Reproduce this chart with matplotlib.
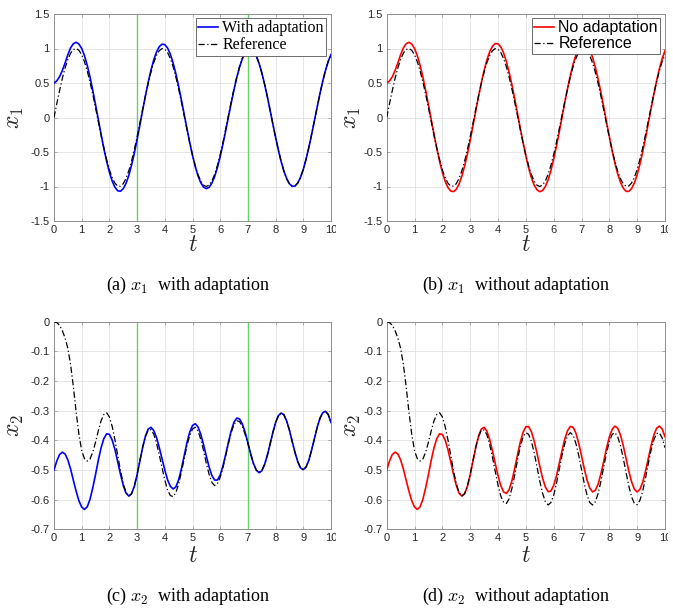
import numpy as np
import matplotlib
matplotlib.use('Agg')
import matplotlib.pyplot as plt
from matplotlib.transforms import Bbox

plt.rcParams['font.family'] = ['Liberation Sans', 'DejaVu Sans']
plt.rcParams['mathtext.fontset'] = 'cm'

# ---------------- data ----------------
t = np.linspace(0, 10, 101)    # sample times (step 0.1)
switch_times = [3, 7]

x1_ref = [0.0, 0.199, 0.389, 0.565, 0.717, 0.841, 0.932, 0.985, 1.0, 0.974,
          0.909, 0.808, 0.675, 0.516, 0.335, 0.141, -0.058, -0.256, -0.443, -0.612,
          -0.757, -0.872, -0.952, -0.994, -0.996, -0.959, -0.883, -0.773, -0.631, -0.465,
          -0.279, -0.083, 0.117, 0.312, 0.494, 0.657, 0.794, 0.899, 0.968, 0.999,
          0.989, 0.941, 0.855, 0.734, 0.585, 0.412, 0.223, 0.025, -0.175, -0.366,
          -0.544, -0.700, -0.828, -0.923, -0.981, -1.0, -0.979, -0.919, -0.823, -0.694,
          -0.537, -0.358, -0.166, 0.034, 0.232, 0.420, 0.592, 0.740, 0.860, 0.944,
          0.991, 0.998, 0.966, 0.895, 0.788, 0.650, 0.487, 0.304, 0.108, -0.092,
          -0.288, -0.472, -0.638, -0.778, -0.887, -0.961, -0.997, -0.993, -0.949, -0.867,
          -0.751, -0.604, -0.435, -0.246, -0.049, 0.149, 0.343, 0.523, 0.681, 0.813,
          0.913]
x1_adapt = [0.50, 0.53, 0.59, 0.68, 0.79, 0.91, 1.01, 1.07, 1.09, 1.064,
            1.000, 0.896, 0.756, 0.587, 0.393, 0.185, -0.030, -0.245, -0.448, -0.634,
            -0.792, -0.921, -1.011, -1.062, -1.069, -1.032, -0.954, -0.841, -0.692, -0.517,
            -0.319, -0.110, 0.104, 0.313, 0.509, 0.685, 0.834, 0.949, 1.027, 1.063,
            1.056, 1.007, 0.917, 0.790, 0.634, 0.452, 0.255, 0.047, -0.162, -0.362,
            -0.548, -0.713, -0.847, -0.947, -1.009, -1.031, -1.012, -0.952, -0.855, -0.724,
            -0.565, -0.384, -0.189, 0.014, 0.215, 0.406, 0.581, 0.731, 0.853, 0.939,
            0.990, 0.998, 0.966, 0.895, 0.788, 0.650, 0.487, 0.304, 0.108, -0.092,
            -0.288, -0.472, -0.638, -0.778, -0.887, -0.961, -0.997, -0.993, -0.949, -0.867,
            -0.751, -0.604, -0.435, -0.246, -0.049, 0.149, 0.343, 0.523, 0.681, 0.813,
            0.913]
x1_noadapt = [0.50, 0.53, 0.59, 0.68, 0.79, 0.91, 1.01, 1.07, 1.09, 1.064,
              1.000, 0.896, 0.755, 0.587, 0.392, 0.185, -0.030, -0.245, -0.448, -0.634,
              -0.794, -0.923, -1.015, -1.066, -1.074, -1.040, -0.964, -0.851, -0.703, -0.529,
              -0.331, -0.121, 0.094, 0.305, 0.503, 0.682, 0.834, 0.952, 1.032, 1.072,
              1.067, 1.023, 0.936, 0.811, 0.655, 0.472, 0.271, 0.059, -0.156, -0.363,
              -0.558, -0.730, -0.872, -0.980, -1.048, -1.075, -1.059, -1.001, -0.903, -0.769,
              -0.604, -0.415, -0.211, 0.004, 0.218, 0.422, 0.611, 0.774, 0.908, 1.004,
              1.061, 1.075, 1.047, 0.976, 0.868, 0.723, 0.551, 0.358, 0.148, -0.067,
              -0.278, -0.479, -0.661, -0.816, -0.938, -1.024, -1.070, -1.071, -1.030, -0.948,
              -0.829, -0.675, -0.497, -0.296, -0.085, 0.128, 0.339, 0.535, 0.708, 0.855,
              0.969]

# x2, t = 0 ... 3.4 (identical in panels c and d)
x2_plant_early = [-0.500, -0.470, -0.448, -0.440, -0.446, -0.466, -0.497, -0.535, -0.572, -0.604,
                  -0.625, -0.633, -0.624, -0.599, -0.560, -0.515, -0.467, -0.425, -0.394, -0.378,
                  -0.380, -0.399, -0.431, -0.472, -0.514, -0.552, -0.578, -0.588, -0.580, -0.555,
                  -0.516, -0.470, -0.424, -0.386, -0.362]
x2_ref_early = [0.0, -0.003, -0.012, -0.030, -0.055, -0.090, -0.145, -0.220, -0.305, -0.380,
                -0.435, -0.462, -0.470, -0.463, -0.440, -0.406, -0.368, -0.334, -0.313, -0.307,
                -0.321, -0.353, -0.398, -0.450, -0.502, -0.546, -0.576, -0.588, -0.580, -0.554,
                -0.515, -0.468, -0.423, -0.387, -0.366]
# x2, t = 3.5 ... 10
x2_adapt_late = [-0.356, -0.367, -0.390, -0.424, -0.462,
                 -0.500, -0.533, -0.555, -0.564, -0.557, -0.533, -0.496, -0.452, -0.408, -0.372,
                 -0.350, -0.344, -0.355, -0.380, -0.415, -0.454, -0.490, -0.519, -0.534, -0.534,
                 -0.517, -0.486, -0.447, -0.405, -0.367, -0.338, -0.325, -0.328, -0.345, -0.373,
                 -0.409, -0.446, -0.478, -0.500, -0.509, -0.503, -0.482, -0.451, -0.413, -0.374,
                 -0.340, -0.317, -0.308, -0.314, -0.335, -0.366, -0.404, -0.441, -0.472, -0.493,
                 -0.499, -0.490, -0.467, -0.433, -0.395, -0.357, -0.326, -0.307, -0.302, -0.313,
                 -0.340]
x2_ref_c_late = [-0.364, -0.379, -0.409, -0.449, -0.492,
                 -0.534, -0.568, -0.586, -0.590, -0.576, -0.547, -0.507, -0.462, -0.418, -0.384,
                 -0.362, -0.356, -0.369, -0.397, -0.435, -0.478, -0.515, -0.542, -0.553, -0.546,
                 -0.525, -0.492, -0.451, -0.410, -0.373, -0.346, -0.334, -0.337, -0.353, -0.380,
                 -0.410, -0.446, -0.478, -0.500, -0.509, -0.503, -0.482, -0.451, -0.413, -0.374,
                 -0.340, -0.317, -0.308, -0.314, -0.335, -0.366, -0.404, -0.441, -0.472, -0.493,
                 -0.499, -0.490, -0.467, -0.433, -0.395, -0.357, -0.326, -0.307, -0.302, -0.313,
                 -0.340]
x2_noadapt_late = [-0.356, -0.369, -0.397, -0.435, -0.478,
                   -0.519, -0.553, -0.574, -0.579, -0.566, -0.536, -0.495, -0.449, -0.406, -0.373,
                   -0.354, -0.354, -0.371, -0.403, -0.443, -0.487, -0.527, -0.557, -0.573, -0.571,
                   -0.552, -0.520, -0.478, -0.435, -0.395, -0.367, -0.353, -0.356, -0.376, -0.410,
                   -0.452, -0.496, -0.534, -0.562, -0.574, -0.568, -0.547, -0.512, -0.470, -0.426,
                   -0.389, -0.363, -0.352, -0.359, -0.382, -0.418, -0.461, -0.504, -0.540, -0.565,
                   -0.574, -0.565, -0.541, -0.504, -0.461, -0.418, -0.382, -0.359, -0.352, -0.362,
                   -0.388]
x2_ref_d_late = [-0.365, -0.381, -0.414, -0.457, -0.505,
                 -0.551, -0.588, -0.609, -0.613, -0.597, -0.562, -0.517, -0.467, -0.421, -0.389,
                 -0.374, -0.380, -0.404, -0.442, -0.489, -0.537, -0.578, -0.607, -0.618, -0.610,
                 -0.585, -0.546, -0.498, -0.451, -0.411, -0.384, -0.374, -0.383, -0.411, -0.451,
                 -0.498, -0.546, -0.585, -0.610, -0.618, -0.607, -0.578, -0.537, -0.489, -0.442,
                 -0.404, -0.380, -0.374, -0.388, -0.418, -0.460, -0.508, -0.554, -0.591, -0.613,
                 -0.617, -0.602, -0.571, -0.527, -0.479, -0.433, -0.398, -0.377, -0.375, -0.392,
                 -0.425]

x2_adapt = x2_plant_early + x2_adapt_late
x2_ref_c = x2_ref_early + x2_ref_c_late
x2_noadapt = x2_plant_early + x2_noadapt_late
x2_ref_d = x2_ref_early + x2_ref_d_late

x_ticks = list(range(11))
x_ticklabels = [str(v) for v in x_ticks]
y1_ticks = [-1.5, -1, -0.5, 0, 0.5, 1, 1.5]
y1_ticklabels = ['-1.5', '-1', '-0.5', '0', '0.5', '1', '1.5']
y2_ticks = [-0.7, -0.6, -0.5, -0.4, -0.3, -0.2, -0.1, 0]
y2_ticklabels = ['-0.7', '-0.6', '-0.5', '-0.4', '-0.3', '-0.2', '-0.1', '0']

captions = ['(a) $x_1$  with adaptation', '(b) $x_1$  without adaptation',
            '(c) $x_2$  with adaptation', '(d) $x_2$  without adaptation']

# ---------------- figure ----------------
W, H = 673, 608
fig = plt.figure(figsize=(W / 100, H / 100), dpi=100)

def rect(l, r, tp, b):
    return [l / W, 1 - b / H, (r - l) / W, (b - tp) / H]

ax_a = fig.add_axes(rect(54, 331, 14, 221))
ax_b = fig.add_axes(rect(386.7, 665, 14, 221))
ax_c = fig.add_axes(rect(54, 331, 321.7, 529.3))
ax_d = fig.add_axes(rect(386.7, 665, 321.7, 529.3))

SPINE = '#8f8f8f'
TXT = '#262626'
BLACK = '#000000'
GREEN = '#66d166'
dashdot = (0, (5, 2, 1, 2))

def style(ax, ylim, yt, ytl, ylab):
    ax.set_xlim(0, 10)
    ax.set_ylim(*ylim)
    ax.set_xticks(x_ticks)
    ax.set_xticklabels(x_ticklabels)
    ax.set_yticks(yt)
    ax.set_yticklabels(ytl)
    ax.grid(True, color='#e2e2e2', lw=0.6)
    ax.set_axisbelow(True)
    ax.tick_params(direction='in', length=2.5, width=0.5, color=SPINE,
                   labelcolor=TXT, labelsize=8, top=True, right=True, pad=3)
    for s in ax.spines.values():
        s.set_color(SPINE)
        s.set_linewidth(0.7)
    ax.set_xlabel('$t$', fontsize=17, color=TXT)
    ax.set_ylabel(ylab, fontsize=17, color=TXT)
    ax.xaxis.label.set_va('center')
    ax.yaxis.label.set_va('center')

for ax in (ax_a, ax_b):
    style(ax, (-1.5, 1.5), y1_ticks, y1_ticklabels, '$x_1$')
for ax in (ax_c, ax_d):
    style(ax, (-0.7, 0), y2_ticks, y2_ticklabels, '$x_2$')

ax_a.xaxis.set_label_coords(0.5, -0.118)
ax_b.xaxis.set_label_coords(0.5, -0.118)
ax_c.xaxis.set_label_coords(0.5, -0.13)
ax_d.xaxis.set_label_coords(0.5, -0.13)
ax_a.yaxis.set_label_coords(-0.142, 0.5)
ax_c.yaxis.set_label_coords(-0.142, 0.5)
ax_b.yaxis.set_label_coords(-0.125, 0.5)
ax_d.yaxis.set_label_coords(-0.125, 0.5)

for ts in switch_times:
    ax_a.axvline(ts, color=GREEN, lw=1.0, zorder=1.5)
    ax_c.axvline(ts, color=GREEN, lw=1.0, zorder=1.5)

ax_a.plot(t, x1_adapt, color='#0000ff', lw=1.2, label='With adaptation', zorder=3)
ax_a.plot(t, x1_ref, color=BLACK, lw=0.9, ls=dashdot, label='Reference', zorder=4)
ax_b.plot(t, x1_noadapt, color='#ff0000', lw=1.2, label='No adaptation', zorder=3)
ax_b.plot(t, x1_ref, color=BLACK, lw=0.9, ls=dashdot, label='Reference', zorder=4)

ax_c.plot(t, x2_adapt, color='#0000ff', lw=1.2, zorder=3)
ax_c.plot(t, x2_ref_c, color=BLACK, lw=0.9, ls=dashdot, zorder=4)
ax_d.plot(t, x2_noadapt, color='#ff0000', lw=1.2, zorder=3)
ax_d.plot(t, x2_ref_d, color=BLACK, lw=0.9, ls=dashdot, zorder=4)

def legend(ax, family, anchor):
    lg = ax.legend(loc='upper right', bbox_to_anchor=anchor, borderaxespad=0,
                   prop={'family': family, 'size': 11.5}, frameon=True, fancybox=False,
                   handlelength=1.25, handletextpad=0.25, borderpad=0.15,
                   labelspacing=0.05, framealpha=1)
    lg.get_frame().set_edgecolor('#555555')
    lg.get_frame().set_linewidth(0.6)
    lg.set_zorder(10)
    for txt in lg.get_texts():
        txt.set_color(BLACK)
    return lg

legend(ax_a, ['Liberation Serif', 'DejaVu Serif'], (0.982, 0.981))
legend(ax_b, ['Liberation Sans', 'DejaVu Sans'], (0.983, 0.981))

# captions
cap_pos = [(188, 285), (516, 285), (188, 596), (516, 596)]
for (cx, cy), txt in zip(cap_pos, captions):
    fig.text(cx / W, 1 - cy / H, txt, ha='center', va='center', fontsize=13,
             family=['Liberation Serif', 'DejaVu Serif'], color=BLACK)

# clip the "10" labels like the cropped original
fig.canvas.draw()
for ax, xclip in ((ax_a, 336), (ax_c, 336), (ax_b, 668), (ax_d, 668)):
    bb = Bbox.from_extents(0, 0, xclip, H)
    for tk in ax.xaxis.get_major_ticks():
        tk.label1.set_clip_box(bb)
        tk.label1.set_clip_on(True)

fig.savefig('out.png', dpi=100)
